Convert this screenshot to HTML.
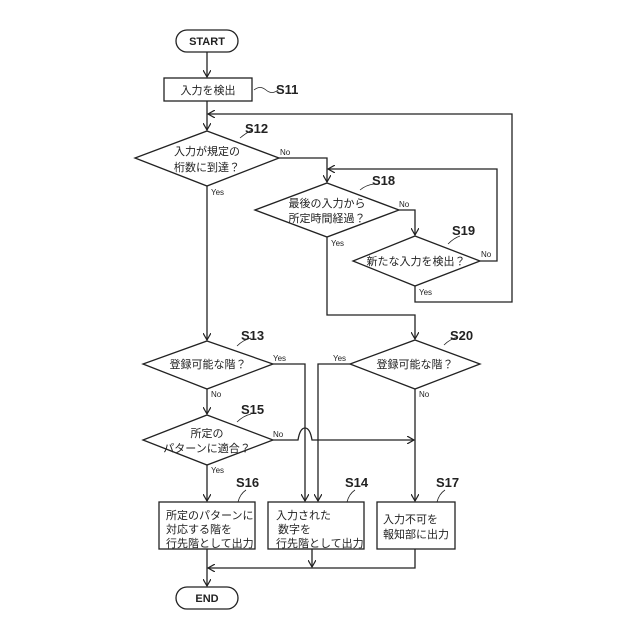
<!DOCTYPE html><html><head><meta charset="utf-8"><style>body{margin:0;background:#fff}svg{display:block}text{font-family:"Liberation Sans","Noto Sans CJK JP",sans-serif;fill:#222}</style></head><body>
<svg width="640" height="640" viewBox="0 0 640 640" xmlns="http://www.w3.org/2000/svg">
<defs><marker id="a" markerWidth="8" markerHeight="8" refX="7" refY="4" orient="auto" markerUnits="userSpaceOnUse"><path d="M0,0 L7,4 L0,8" fill="none" stroke="#222" stroke-width="1.2"/></marker></defs>
<g fill="none" stroke="#222" stroke-width="1.3">
<rect x="176" y="30" width="62" height="22" rx="11"/>
<rect x="164" y="78" width="88" height="23"/>
<polygon points="207,131 279,158 207,186 135,158"/>
<polygon points="327,183 399,210 327,237 255,210"/>
<polygon points="415,236 480,261 415,286 353,261"/>
<polygon points="207,341 273,364 207,389 143,364"/>
<polygon points="415,340 480,364 415,389 350,364"/>
<polygon points="207,415 273,440 207,465 143,440"/>
<rect x="159" y="502" width="96" height="47"/>
<rect x="268" y="502" width="96" height="47"/>
<rect x="377" y="502" width="78" height="47"/>
<rect x="176" y="587" width="62" height="22" rx="11"/>
<line x1="207" y1="52" x2="207" y2="77" marker-end="url(#a)"/>
<line x1="207" y1="101" x2="207" y2="130" marker-end="url(#a)"/>
<polyline points="415,286 415,302 512,302 512,114 208,114" marker-end="url(#a)"/>
<polyline points="279,158 327,158 327,182" marker-end="url(#a)"/>
<polyline points="399,210 415,210 415,235" marker-end="url(#a)"/>
<polyline points="480,261 497,261 497,169 328,169" marker-end="url(#a)"/>
<polyline points="327,237 327,315 415,315 415,339" marker-end="url(#a)"/>
<line x1="207" y1="186" x2="207" y2="340" marker-end="url(#a)"/>
<line x1="207" y1="389" x2="207" y2="414" marker-end="url(#a)"/>
<line x1="207" y1="465" x2="207" y2="501" marker-end="url(#a)"/>
<polyline points="273,364 305,364 305,501" marker-end="url(#a)"/>
<polyline points="350,364 318,364 318,501" marker-end="url(#a)"/>
<line x1="415" y1="389" x2="415" y2="501" marker-end="url(#a)"/>
<path d="M273,440 L298,440 Q300,428 305,428 Q310,428 312,440 L414,440" marker-end="url(#a)"/>
<line x1="207" y1="549" x2="207" y2="586" marker-end="url(#a)"/>
<line x1="312" y1="549" x2="312" y2="567" marker-end="url(#a)"/>
<polyline points="415,549 415,568 208,568" marker-end="url(#a)"/>
<g stroke-width="0.8"><path d="M254,90 q6,-5 12,0 t12,0"/><path d="M240,138 q6,-5 12,-8"/><path d="M360,190 q6,-5 14,-6"/><path d="M448,244 q6,-6 12,-8"/><path d="M237,346 q6,-6 14,-8"/><path d="M444,345 q6,-6 14,-8"/><path d="M237,422 q6,-6 14,-8"/><path d="M238,502 q2,-8 8,-12"/><path d="M347,502 q2,-8 8,-12"/><path d="M437,502 q2,-8 8,-12"/></g>
</g>
<g font-size="11" text-anchor="middle">
<text x="207" y="45" font-weight="bold">START</text>
<text x="207" y="602" font-weight="bold">END</text>
<text x="208" y="94">入力を検出</text>
<text x="207" y="155">入力が規定の</text><text x="207" y="171">桁数に到達？</text>
<text x="327" y="207">最後の入力から</text><text x="327" y="222">所定時間経過？</text>
<text x="416" y="265">新たな入力を検出？</text>
<text x="208" y="368">登録可能な階？</text>
<text x="415" y="368">登録可能な階？</text>
<text x="207" y="437">所定の</text><text x="207" y="452">パターンに適合？</text>
</g>
<g font-size="11">
<text x="166" y="519">所定のパターンに</text><text x="166" y="533">対応する階を</text><text x="166" y="547">行先階として出力</text>
<text x="276" y="519">入力された</text><text x="278" y="533">数字を</text><text x="276" y="547">行先階として出力</text>
<text x="383" y="523">入力不可を</text><text x="383" y="538">報知部に出力</text>
</g>
<g font-size="13" font-weight="bold">
<text x="276" y="94">S11</text><text x="245" y="133">S12</text><text x="372" y="185">S18</text><text x="452" y="235">S19</text>
<text x="241" y="340">S13</text><text x="450" y="340">S20</text><text x="241" y="414">S15</text>
<text x="236" y="487">S16</text><text x="345" y="487">S14</text><text x="436" y="487">S17</text>
</g>
<g font-size="8">
<text x="280" y="155">No</text><text x="211" y="195">Yes</text><text x="399" y="207">No</text><text x="331" y="246">Yes</text>
<text x="481" y="257">No</text><text x="419" y="295">Yes</text><text x="273" y="361">Yes</text><text x="333" y="361">Yes</text>
<text x="211" y="397">No</text><text x="419" y="397">No</text><text x="273" y="437">No</text><text x="211" y="473">Yes</text>
</g>
</svg></body></html>
